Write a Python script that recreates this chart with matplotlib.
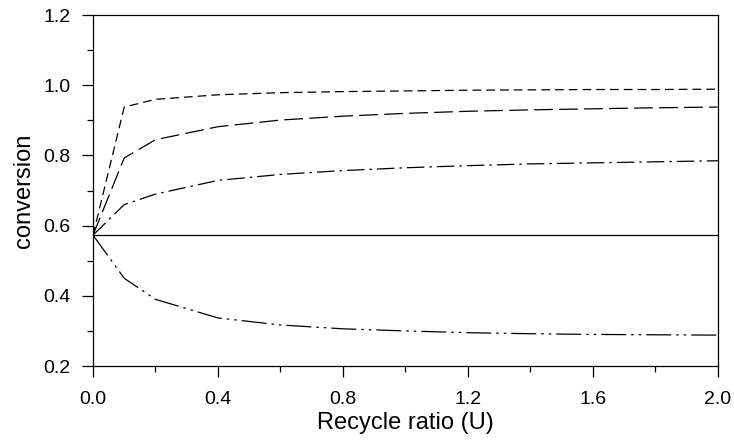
import matplotlib
matplotlib.use("Agg")
import matplotlib.pyplot as plt
from matplotlib.ticker import MultipleLocator, FormatStrFormatter

plt.rcParams['font.family'] = ['Liberation Sans', 'DejaVu Sans']

recycle = [0, 0.1, 0.2, 0.4, 0.6, 0.8, 1.0, 1.2, 1.4, 1.6, 1.8, 2.0]
conv_a = [0.573, 0.938, 0.96, 0.973, 0.979, 0.982, 0.984, 0.986, 0.987, 0.988, 0.988, 0.989]
conv_b = [0.573, 0.793, 0.845, 0.882, 0.901, 0.912, 0.920, 0.926, 0.930, 0.933, 0.936, 0.938]
conv_c = [0.573, 0.660, 0.690, 0.729, 0.746, 0.757, 0.765, 0.771, 0.776, 0.779, 0.782, 0.785]
conv_d = [0.573] * len(recycle)
conv_e = [0.573, 0.450, 0.390, 0.337, 0.317, 0.306, 0.300, 0.295, 0.292, 0.290, 0.289, 0.288]

fig = plt.figure(figsize=(7.34, 4.45), dpi=100)
ax = fig.add_axes([0.1267, 0.1775, 0.8513, 0.7885])

lw = 0.9
ax.plot(recycle, conv_a, color='black', lw=lw, linestyle=(0, (7, 4)))
ax.plot(recycle, conv_b, color='black', lw=lw, linestyle=(0, (15, 5)))
ax.plot(recycle, conv_c, color='black', lw=lw, linestyle=(0, (14, 4, 2, 4)))
ax.plot(recycle, conv_d, color='black', lw=lw, linestyle='-')
ax.plot(recycle, conv_e, color='black', lw=lw, linestyle=(0, (20, 4, 2, 4, 2, 4)))

ax.set_xlim(0, 2.0)
ax.set_ylim(0.2, 1.2)
ax.xaxis.set_major_locator(MultipleLocator(0.4))
ax.xaxis.set_minor_locator(MultipleLocator(0.2))
ax.yaxis.set_major_locator(MultipleLocator(0.2))
ax.yaxis.set_minor_locator(MultipleLocator(0.1))
ax.xaxis.set_major_formatter(FormatStrFormatter('%.1f'))
ax.yaxis.set_major_formatter(FormatStrFormatter('%.1f'))
ax.tick_params(which='major', direction='out', length=8, width=0.9, labelsize=14)
ax.tick_params(which='minor', direction='out', length=4.5, width=0.9)
ax.tick_params(axis='x', which='major', pad=10)
ax.tick_params(axis='y', which='major', pad=8)
for s in ax.spines.values():
    s.set_linewidth(0.9)

ax.set_xlabel('Recycle ratio (U)', fontsize=17, labelpad=3)
ax.set_ylabel('conversion', fontsize=17, labelpad=6)

fig.savefig('out.png', dpi=100)
